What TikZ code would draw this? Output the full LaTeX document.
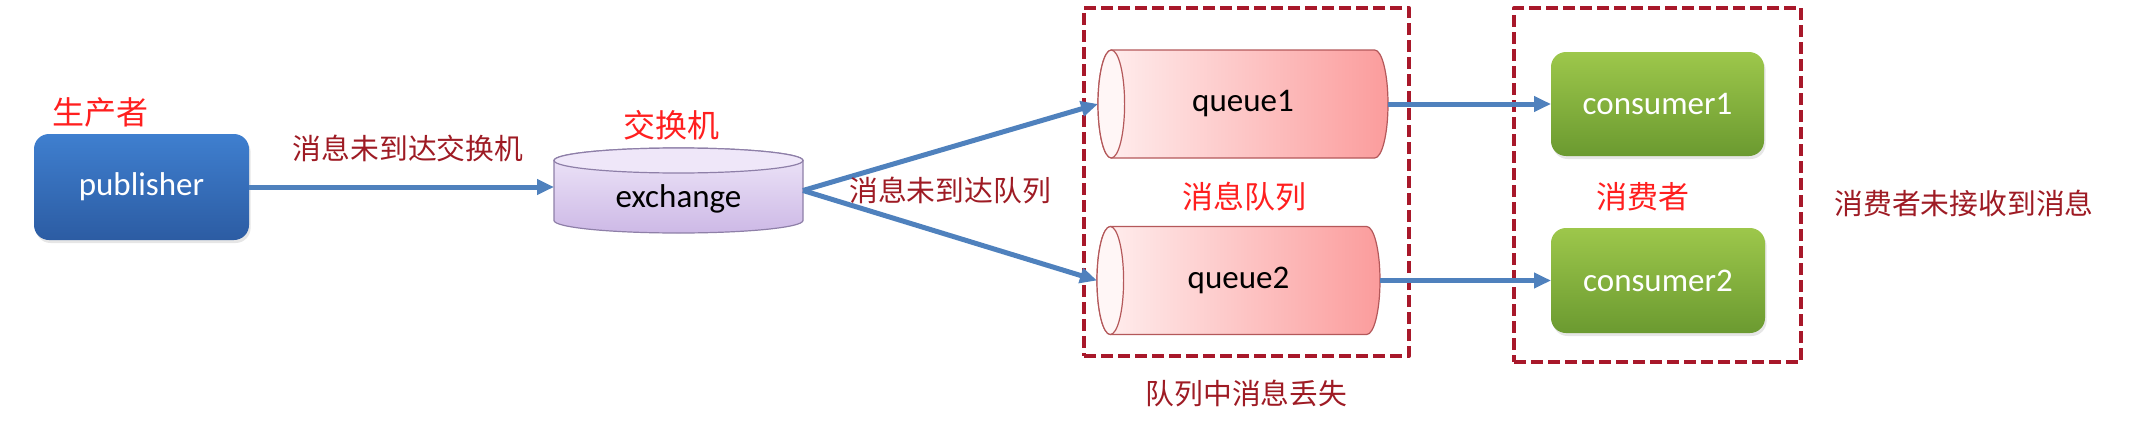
\documentclass[tikz,border=0pt]{standalone}
\usepackage{fontspec}
\setmainfont{Carlito}
\newfontfamily\cjk{Noto Sans CJK SC}
\usetikzlibrary{arrows.meta, positioning, calc, backgrounds, shadows}

\definecolor{pubtop}{HTML}{3F7FCF}
\definecolor{pubbot}{HTML}{2C5CA3}
\definecolor{contop}{HTML}{9DC74B}
\definecolor{conbot}{HTML}{6B9A30}
\definecolor{exlight}{HTML}{EFE7F9}
\definecolor{exdark}{HTML}{CDB9E6}
\definecolor{exline}{HTML}{8E7FA8}
\definecolor{qlight}{HTML}{FFF0F0}
\definecolor{qdark}{HTML}{FB9C9C}
\definecolor{qcap}{HTML}{FFF6F6}
\definecolor{qline}{HTML}{B4585A}
\definecolor{flowblue}{HTML}{4F81BD}
\definecolor{lossred}{HTML}{A8182A}
\definecolor{tagred}{HTML}{FF1F1F}
\definecolor{notered}{HTML}{9E1B24}

\begin{document}
\begin{tikzpicture}[x=0.5pt, y=-0.5pt, >={Triangle[length=8.5pt, width=7.5pt]}, line join=round]
	\useasboundingbox (0,0) rectangle (2152,423);
	
	%======================
	% STYLES
	%======================
	\tikzset{
		unit/.style={inner sep=0pt, outer sep=0pt, font=\fontsize{16.5}{18}\selectfont},
		pubbox/.style={unit, rounded corners=7.5pt, top color=pubtop, bottom color=pubbot, text=white,
			drop shadow={opacity=0.2, shadow xshift=0.8pt, shadow yshift=-1.5pt}},
		conbox/.style={unit, rounded corners=7.5pt, top color=contop, bottom color=conbot, text=white,
			drop shadow={opacity=0.2, shadow xshift=0.8pt, shadow yshift=-1.5pt}},
		hole/.style={unit, text=black},
		flow/.style={->, draw=flowblue, line width=2.5pt},
		lossbox/.style={draw=lossred, line width=2pt, dash pattern=on 6pt off 2.5pt, inner sep=0pt},
		tag/.style={text=tagred, font=\cjk\fontsize{16}{18}\selectfont, inner sep=0pt},
		note/.style={text=notered, font=\cjk\fontsize{14.4}{16}\selectfont, inner sep=0pt}
	}
	
	% vertical drum around a node
	\newcommand{\drumat}[1]{
		\shade[top color=exlight, bottom color=exdark, draw=exline, line width=0.6pt]
		($(#1.north west)+(0,12.5)$) -- ($(#1.south west)+(0,-12.5)$)
		arc (180:360:62.25pt and 6.25pt) -- ($(#1.north east)+(0,12.5)$)
		arc (0:180:62.25pt and 6.25pt) -- cycle;
		\filldraw[fill=exlight, draw=exline, line width=0.6pt]
		($(#1.north)+(0,12.5)$) ellipse (62.25pt and 6.25pt);
	}
	
	% lying tube around a node
	\newcommand{\tubeat}[1]{
		\shade[left color=qlight, right color=qdark, draw=qline, line width=0.6pt]
		($(#1.north west)+(13.3,0)$) -- ($(#1.north east)+(-13.3,0)$)
		arc (90:-90:6.65pt and 27pt) -- ($(#1.south west)+(13.3,0)$)
		arc (270:90:6.65pt and 27pt) -- cycle;
		\filldraw[fill=qcap, draw=qline, line width=0.6pt]
		($(#1.west)+(13.3,0)$) ellipse (6.65pt and 27pt);
	}
	
	% nodes
	\node[pubbox, minimum width=107.5pt, minimum height=53pt] (pub) at (141.5,187) {publisher};
	\node[hole, minimum width=124.5pt, minimum height=42.5pt] (ex) at (678.5,190.5) {};
	\node[hole] (exname) at ($(ex.center)+(0,8)$) {exchange};
	\node[hole, minimum width=145pt, minimum height=54pt] (q1) at (1243,104) {queue1};
	\node[hole, minimum width=141.5pt, minimum height=54pt] (q2) at (1238.5,280.5) {queue2};
	\node[conbox, minimum width=106.5pt, minimum height=52pt] (con1) at (1657.5,104) {consumer1};
	\node[conbox, minimum width=107pt, minimum height=52.5pt] (con2) at (1658,280.5) {consumer2};
	
	\begin{scope}[on background layer]
		\drumat{ex}
		\tubeat{q1}
		\tubeat{q2}
	\end{scope}
	
	% dashed groups
	\node[lossbox, minimum width=162.5pt, minimum height=174pt] (qgroup) at (1246.5,182) {};
	\node[lossbox, minimum width=143.5pt, minimum height=177pt] (cgroup) at (1657.5,185) {};
	
	% connectors
	\draw[flow] (pub.east) -- (pub.east -| ex.west);
	\draw[flow] (ex.east) -- (q1.west);
	\draw[flow] (ex.east) -- (q2.west);
	\draw[flow] (q1.east) -- (con1.west);
	\draw[flow] (q2.east) -- (con2.west);
	
	% labels
	\node[tag] (pubtag) at (100,112) {生产者};
	\node[tag] (extag) at (671,125) {交换机};
	\node[tag, font=\cjk\fontsize{15.5}{18}\selectfont] (qtag) at (1244,197) {消息队列};
	\node[tag, font=\cjk\fontsize{15.5}{18}\selectfont] (ctag) at (1643,197) {消费者};
	\node[note] (lost1) at (408,148) {消息未到达交换机};
	\node[note] (lost2) at (950,190) {消息未到达队列};
	\node[note, below=11pt of qgroup] (lost3) {队列中消息丢失};
	\node[note] (lost4) at (1964,203) {消费者未接收到消息};
\end{tikzpicture}
\end{document}
